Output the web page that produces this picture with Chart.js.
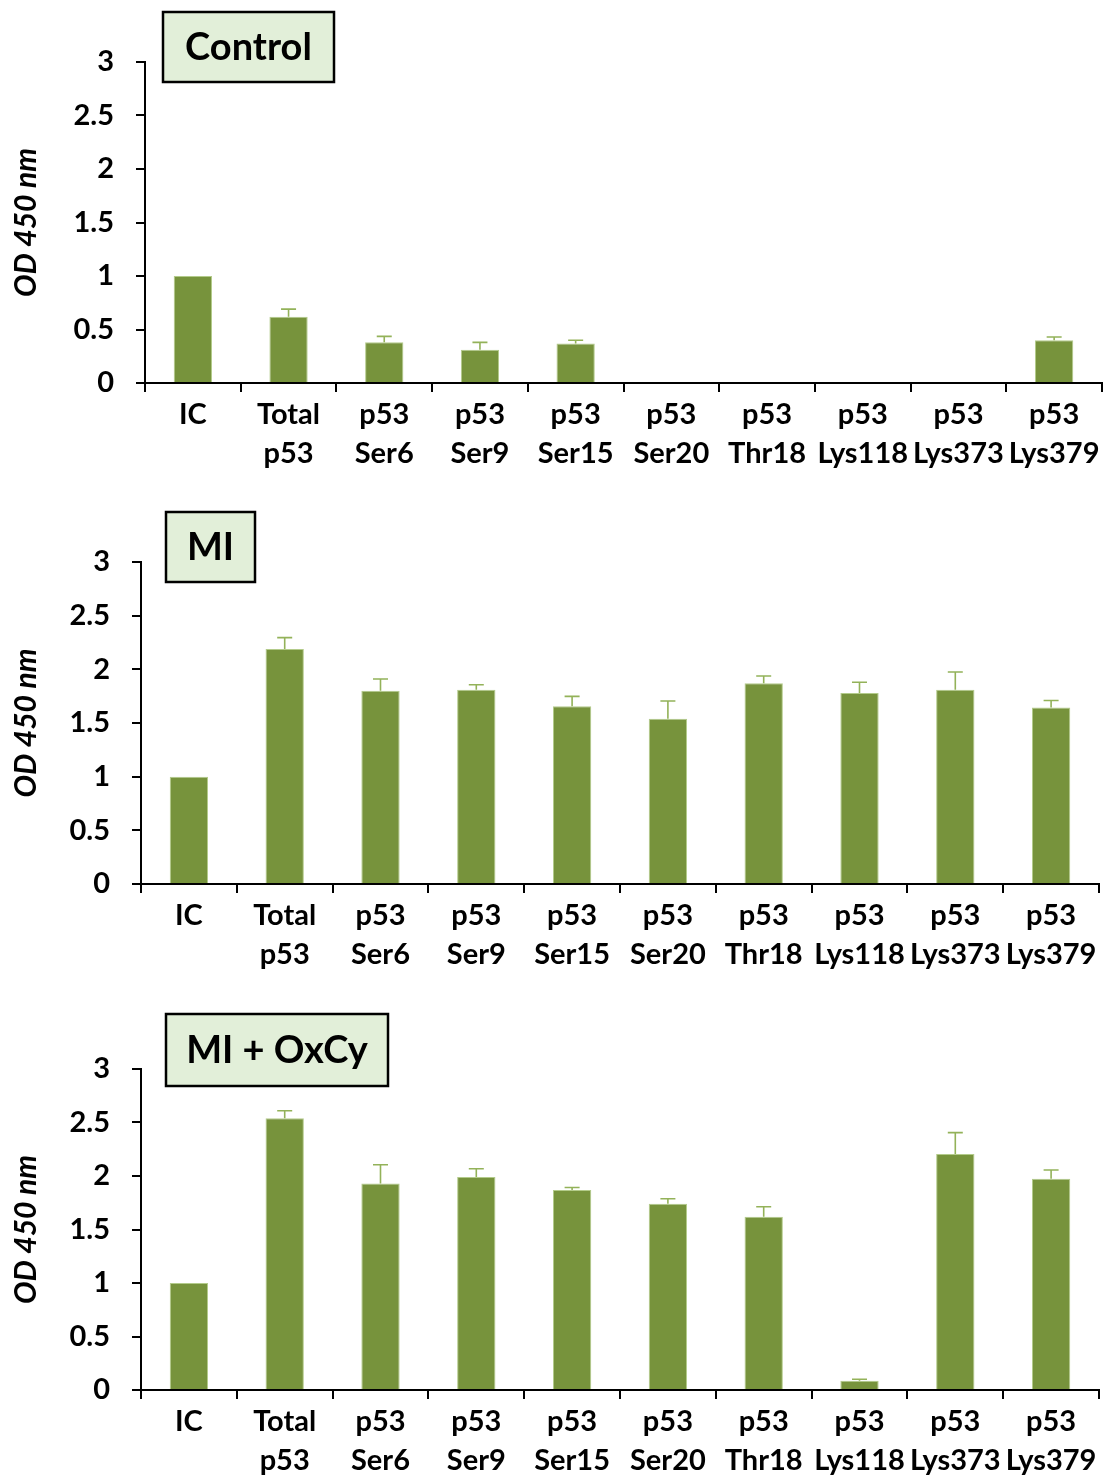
<!DOCTYPE html>
<html>
<head>
<meta charset="utf-8">
<script src="https://cdn.jsdelivr.net/npm/chart.js@4.4.1/dist/chart.umd.min.js"></script>
<style>
  body { margin: 0; background: #fff; }
  #page { position: relative; width: 1106px; height: 1478px; overflow: hidden; }
  canvas { position: absolute; left: 0; }
</style>
</head>
<body>
<div id="page">
  <canvas id="chartControl" width="1106" height="500" style="top:0"></canvas>
  <canvas id="chartMI" width="1106" height="500" style="top:500px"></canvas>
  <canvas id="chartOxCy" width="1106" height="478" style="top:1000px"></canvas>
</div>
<script>
// categories shared by all three panels
const categories = [
    ['IC'], ['Total', 'p53'], ['p53', 'Ser6'], ['p53', 'Ser9'], ['p53', 'Ser15'],
    ['p53', 'Ser20'], ['p53', 'Thr18'], ['p53', 'Lys118'], ['p53', 'Lys373'], ['p53', 'Lys379']
];
const yTicks = [0, 0.5, 1, 1.5, 2, 2.5, 3];

// Control
const controlValues = [1.0, 0.62, 0.38, 0.31, 0.37, null, null, null, null, 0.40];
const controlErrors = [0, 0.07, 0.056, 0.07, 0.03, 0, 0, 0, 0, 0.03];

// MI
const miValues = [1.0, 2.19, 1.80, 1.81, 1.655, 1.54, 1.87, 1.78, 1.81, 1.645];
const miErrors = [0, 0.105, 0.11, 0.047, 0.093, 0.165, 0.068, 0.10, 0.165, 0.065];

// MI + OxCy
const oxcyValues = [1.0, 2.54, 1.93, 1.99, 1.87, 1.74, 1.62, 0.087, 2.205, 1.975];
const oxcyErrors = [0, 0.07, 0.175, 0.078, 0.022, 0.047, 0.093, 0.013, 0.20, 0.081];

const FONT = 'Lato, Carlito, Calibri, "DejaVu Sans", sans-serif';
const BAR_COLOR = '#77933C';
const ERR_COLOR = '#93B259';

// draws the up-only error bars on top of the bars
const errorBars = {
    id: 'errorBars',
    afterDatasetsDraw(chart, args, opts) {
        const ctx = chart.ctx;
        const yScale = chart.scales.y;
        const values = chart.data.datasets[0].data;
        ctx.save();
        ctx.strokeStyle = opts.color;
        ctx.lineWidth = opts.width;
        chart.getDatasetMeta(0).data.forEach(function(bar, i) {
            const v = values[i];
            const e = opts.errors[i];
            if (v == null || !e) return;
            const yTop = yScale.getPixelForValue(v + e);
            ctx.beginPath();
            ctx.moveTo(bar.x, bar.y);
            ctx.lineTo(bar.x, yTop);
            ctx.moveTo(bar.x - opts.capWidth / 2, yTop);
            ctx.lineTo(bar.x + opts.capWidth / 2, yTop);
            ctx.stroke();
        });
        ctx.restore();
    }
};

// the green boxed panel label in the top left
const panelLabel = {
    id: 'panelLabel',
    afterDraw(chart, args, opts) {
        const ctx = chart.ctx;
        ctx.save();
        ctx.fillStyle = '#E2EFD9';
        ctx.fillRect(opts.x, opts.y, opts.w, opts.h);
        ctx.strokeStyle = '#000';
        ctx.lineWidth = 2.5;
        ctx.strokeRect(opts.x, opts.y, opts.w, opts.h);
        ctx.fillStyle = '#000';
        ctx.font = 'bold 38px ' + FONT;
        ctx.textAlign = 'center';
        ctx.textBaseline = 'middle';
        ctx.fillText(opts.text, opts.x + opts.w / 2, opts.y + opts.h / 2 + 1);
        ctx.restore();
    }
};

function makeChart(id, values, errors, panel) {
    const ctx = document.getElementById(id).getContext('2d');
    return new Chart(ctx, {
        type: 'bar',
        data: {
            labels: categories,
            datasets: [{
                data: values,
                backgroundColor: BAR_COLOR,
                borderColor: '#B3CB8A',
                borderWidth: 1,
                categoryPercentage: 1,
                barPercentage: 0.4
            }]
        },
        options: {
            responsive: false,
            animation: false,
            layout: { padding: { top: panel.top, right: panel.right, left: 0, bottom: 0 } },
            plugins: {
                legend: { display: false },
                tooltip: { enabled: false },
                errorBars: { errors: errors, color: ERR_COLOR, width: 1.6, capWidth: 15 },
                panelLabel: panel.label
            },
            scales: {
                x: {
                    offset: true,
                    border: { color: '#000', width: 2 },
                    grid: { offset: true, drawOnChartArea: false, drawTicks: true, tickLength: 9, color: '#000', lineWidth: 2 },
                    ticks: {
                        autoSkip: false,
                        maxRotation: 0,
                        minRotation: 0,
                        padding: 3,
                        color: '#000',
                        font: { family: FONT, size: 29, weight: 'bold', lineHeight: '39px' }
                    },
                    afterFit: function(s) { s.height = panel.xHeight; }
                },
                y: {
                    min: 0,
                    max: 3,
                    border: { color: '#000', width: 2 },
                    grid: { drawOnChartArea: false, drawTicks: true, tickLength: 9, color: '#000', lineWidth: 2 },
                    afterBuildTicks: function(s) { s.ticks = yTicks.map(v => ({ value: v })); },
                    ticks: {
                        padding: 22,
                        color: '#000',
                        font: { family: FONT, size: 29, weight: 'bold' },
                        callback: function(value) { return String(value); }
                    },
                    title: {
                        display: true,
                        text: 'OD 450 nm',
                        color: '#000',
                        padding: { top: 8, bottom: 0 },
                        font: { family: FONT, size: 30, weight: 'bold', style: 'italic', lineHeight: 1.2 }
                    },
                    afterFit: function(s) { s.width = panel.yWidth; }
                }
            }
        },
        plugins: [errorBars, panelLabel]
    });
}

makeChart('chartControl', controlValues, controlErrors, {
    top: 62, right: 4, xHeight: 117, yWidth: 145,
    label: { text: 'Control', x: 163, y: 12, w: 171, h: 70 }
});
makeChart('chartMI', miValues, miErrors, {
    top: 62, right: 7, xHeight: 116, yWidth: 141,
    label: { text: 'MI', x: 166, y: 12, w: 89, h: 70 }
});
makeChart('chartOxCy', oxcyValues, oxcyErrors, {
    top: 69, right: 7, xHeight: 88, yWidth: 141,
    label: { text: 'MI + OxCy', x: 166, y: 14, w: 222, h: 72 }
});
</script>
</body>
</html>
